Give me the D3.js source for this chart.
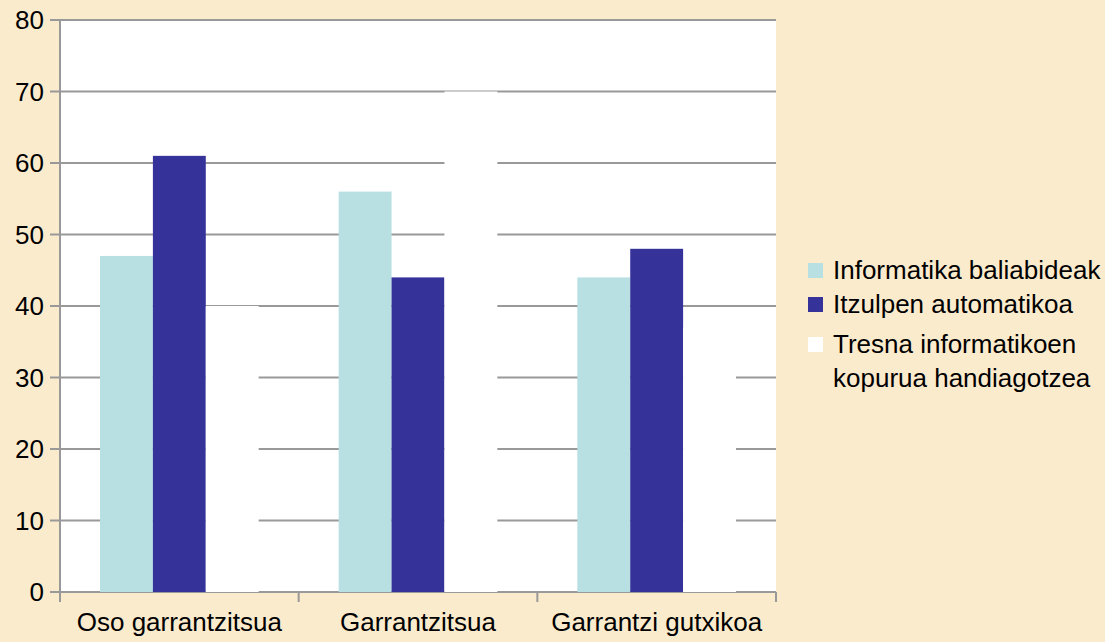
<!DOCTYPE html>
<html lang="eu">
<head>
<meta charset="utf-8">
<title>Garrantzia</title>
<script src="https://cdn.jsdelivr.net/npm/d3@7"></script>
<style>
  body { margin: 0; background: #fbebcd; }
  svg { display: block; font-family: "Liberation Sans", Arial, sans-serif; }
</style>
</head>
<body>
<script>
// data
var categories = ["Oso garrantzitsua", "Garrantzitsua", "Garrantzi gutxikoa"];
var seriesNames = ["Informatika baliabideak", "Itzulpen automatikoa", "Tresna informatikoen kopurua handiagotzea"];
var informatika = [47, 56, 44];
var itzulpen = [61, 44, 48];
var tresna = [40, 70, 37];
var yTicks = [0, 10, 20, 30, 40, 50, 60, 70, 80];

var colors = ["#b8e0e3", "#353399", "#ffffff"];
var series = [informatika, itzulpen, tresna];

var W = 1105, H = 642;
var m = {left: 60, right: 329, top: 20, bottom: 50};
var fs = 26;

var svg = d3.select("body").append("svg").attr("width", W).attr("height", H);

var x0 = d3.scaleBand().domain(categories).range([m.left, W - m.right]);
var x1 = d3.scaleBand().domain([0, 1, 2]).range([40, x0.bandwidth() - 40]);
var y = d3.scaleLinear().domain([0, 80]).range([H - m.bottom, m.top]);

// plot area
svg.append("rect")
  .attr("x", m.left).attr("y", m.top)
  .attr("width", W - m.right - m.left).attr("height", H - m.bottom - m.top)
  .attr("fill", "#fff");

// gridlines
svg.append("g").selectAll("line").data(yTicks).enter().append("line")
  .attr("x1", m.left - 10).attr("x2", W - m.right)
  .attr("y1", function(d) { return y(d); }).attr("y2", function(d) { return y(d); })
  .attr("stroke", "#999").attr("stroke-width", 2);

// y tick labels
svg.append("g").selectAll("text").data(yTicks).enter().append("text")
  .attr("x", 44).attr("y", function(d) { return y(d); })
  .attr("dy", "0.35em").attr("text-anchor", "end")
  .attr("font-size", fs).attr("fill", "#000")
  .text(function(d) { return d; });

// y axis line
svg.append("line")
  .attr("x1", m.left).attr("x2", m.left)
  .attr("y1", m.top).attr("y2", H - m.bottom + 10)
  .attr("stroke", "#999").attr("stroke-width", 2);

// x ticks
var xt = categories.map(function(c) { return x0(c); }).concat([W - m.right]);
svg.append("g").selectAll("line").data(xt).enter().append("line")
  .attr("x1", function(d) { return d; }).attr("x2", function(d) { return d; })
  .attr("y1", H - m.bottom).attr("y2", H - m.bottom + 10)
  .attr("stroke", "#999").attr("stroke-width", 2);

// bars
series.forEach(function(vals, s) {
  svg.append("g").selectAll("rect").data(vals).enter().append("rect")
    .attr("x", function(d, i) { return x0(categories[i]) + x1(s); })
    .attr("width", x1.bandwidth())
    .attr("y", function(d) { return y(d); })
    .attr("height", function(d) { return y(0) - y(d); })
    .attr("fill", colors[s]);
});

// x labels
svg.append("g").selectAll("text").data(categories).enter().append("text")
  .attr("x", function(d) { return x0(d) + x0.bandwidth() / 2; })
  .attr("y", 631)
  .attr("text-anchor", "middle")
  .attr("font-size", fs).attr("fill", "#000")
  .text(function(d) { return d; });

// legend
var leg = svg.append("g");
var legY = [270, 304, 344];
seriesNames.forEach(function(name, i) {
  leg.append("rect")
    .attr("x", 808).attr("y", legY[i] - 7)
    .attr("width", 15).attr("height", 15)
    .attr("fill", colors[i]);
});
leg.append("text").attr("x", 833).attr("y", legY[0]).attr("dy", "0.35em")
  .attr("font-size", fs).text(seriesNames[0]);
leg.append("text").attr("x", 833).attr("y", legY[1]).attr("dy", "0.35em")
  .attr("font-size", fs).text(seriesNames[1]);
var t3 = leg.append("text").attr("x", 833).attr("y", legY[2]).attr("dy", "0.35em")
  .attr("font-size", fs);
t3.append("tspan").attr("x", 833).text("Tresna informatikoen");
t3.append("tspan").attr("x", 833).attr("dy", 34).text("kopurua handiagotzea");
</script>
</body>
</html>
